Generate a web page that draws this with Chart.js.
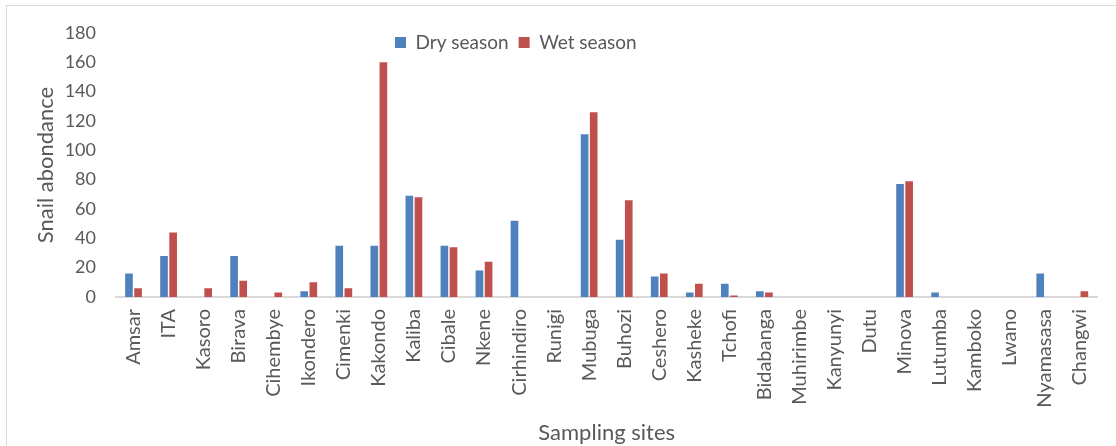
<!DOCTYPE html>
<html lang="en">
<head>
<meta charset="UTF-8" />
<title>Snail abondance</title>
<script src="https://cdn.jsdelivr.net/npm/chart.js"></script>
<style>
body { margin: 0; background: #fff; }
#wrap { position: relative; width: 1116px; height: 446px; }
#frame { position: absolute; left: 6px; top: 5px; width: 1120px; height: 460px; border: 1px solid #d9d9d9; pointer-events: none; }
</style>
</head>
<body>
<div id="wrap">
  <canvas id="chart" width="1116" height="446"></canvas>
  <div id="frame"></div>
</div>
<script>
const sites = ['Amsar', 'ITA', 'Kasoro', 'Birava', 'Cihembye', 'Ikondero', 'Cimenki', 'Kakondo', 'Kaliba', 'Cibale',
  'Nkene', 'Cirhindiro', 'Runigi', 'Mubuga', 'Buhozi', 'Ceshero', 'Kasheke', 'Tchofi', 'Bidabanga', 'Muhirimbe',
  'Kanyunyi', 'Dutu', 'Minova', 'Lutumba', 'Kamboko', 'Lwano', 'Nyamasasa', 'Changwi'];
const drySeason = [16, 28, 0, 28, 0, 4, 35, 35, 69, 35, 18, 52, 0, 111, 39, 14, 3, 9, 4, 0, 0, 0, 77, 3, 0, 0, 16, 0];
const wetSeason = [6, 44, 6, 11, 3, 10, 6, 160, 68, 34, 24, 0, 0, 126, 66, 16, 9, 1, 3, 0, 0, 0, 79, 0, 0, 0, 0, 4];
const yMin = 0, yMax = 180, yStep = 20;

const grey = '#595959';
const fontName = 'Lato, "Open Sans", sans-serif';

// legend floats inside the plot, left of centre like the excel one:
// make it take no room at the top, then move it after layout
const legendShift = {
  id: 'legendShift',
  beforeLayout(chart) {
    const l = chart.legend;
    if (l && !l._patched) {
      const fit = l.fit;
      l.fit = function () { fit.call(this); this.height = 0; };
      l._patched = true;
    }
  },
  afterLayout(chart) {
    const l = chart.legend;
    l.left = 385;
    l.right = chart.chartArea.right;
    l.width = l.right - l.left;
    l.top = 23;
    l.bottom = 63;
    l.height = 40;
  }
};

new Chart(document.getElementById('chart'), {
  type: 'bar',
  data: {
    labels: sites,
    datasets: [
      { label: 'Dry season', data: drySeason, backgroundColor: '#4F81BD' },
      { label: 'Wet season', data: wetSeason, backgroundColor: '#C0504D' }
    ]
  },
  options: {
    responsive: false,
    animation: false,
    layout: { padding: { left: 33, top: 33, right: 10, bottom: 0 } },
    datasets: { bar: { categoryPercentage: 0.52, barPercentage: 0.84 } },
    plugins: {
      tooltip: { enabled: false },
      legend: {
        position: 'top', align: 'start',
        labels: { boxWidth: 11, boxHeight: 11, padding: 10, color: grey, font: { family: fontName, size: 19 } }
      }
    },
    scales: {
      x: {
        grid: { display: false, drawTicks: false },
        border: { color: '#d9d9d9', width: 2 },
        ticks: { color: grey, font: { family: fontName, size: 20 }, autoSkip: false, maxRotation: 90, minRotation: 90, padding: 12 },
        title: { display: true, text: 'Sampling sites', color: grey, font: { family: fontName, size: 22 }, padding: 0 },
        afterFit(s) { s.height = 149; }
      },
      y: {
        min: yMin, max: yMax,
        grid: { display: false, drawTicks: false },
        border: { display: false },
        ticks: { stepSize: yStep, color: grey, font: { family: fontName, size: 18 }, padding: 20 },
        title: { display: true, text: 'Snail abondance', color: grey, font: { family: fontName, size: 22 }, padding: 0 },
        afterFit(s) { s.width = 83; }
      }
    }
  },
  plugins: [legendShift]
});
</script>
</body>
</html>
